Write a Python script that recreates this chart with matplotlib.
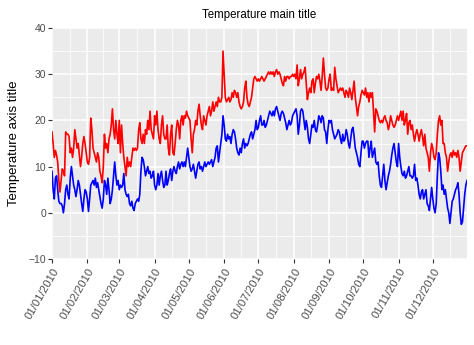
import numpy as np
import pandas as pd
import matplotlib
matplotlib.use("Agg")
import matplotlib.pyplot as plt
import matplotlib.dates as mdates

# daily max / min temperatures for 2010, one row per month
tmax = [
    17.5, 15, 12, 13.5, 12.5, 11, 7, 4.5, 7, 9.5, 9, 8, 17.5, 17, 17, 16.5, 13, 14, 12, 14, 18, 16, 14, 15, 12.5, 10, 12, 15, 16.5, 15, 13,
    11, 10.5, 12, 20.5, 18, 14, 13, 12, 11, 13, 12, 9, 8, 6.5, 10, 17, 14, 15, 13, 16, 17, 19, 22.5, 18, 16, 20, 17, 15,
    20, 13, 19, 15, 12, 10, 8, 12, 10, 11, 10, 12, 14, 13.5, 14, 13.5, 14, 18, 19.5, 16, 15, 17, 15, 18, 17, 20, 18, 22, 18, 17, 16,
    21, 19, 22, 18, 16, 15, 19, 21, 17, 16, 16, 19, 14, 12.5, 17, 19, 13, 12.5, 15, 18, 20, 19, 16, 20, 21, 19, 21, 20.5, 22, 21,
    20.5, 20, 16, 13, 17, 18, 20, 19, 22, 23.5, 21, 19, 18, 21, 20, 19, 21, 22, 23, 21, 22, 24, 22, 23, 24, 23, 25, 24, 24, 25, 35,
    30, 25, 24, 24.5, 25, 24, 24.5, 26, 25, 26.5, 26, 25, 26, 24, 23, 22.5, 23, 24, 27, 28.5, 25, 23.5, 23, 24, 25, 27, 29, 29.5, 29, 28.5,
    29, 28.5, 29, 29.5, 29, 28.5, 29, 29.5, 30, 30.5, 30, 30.5, 30, 30.5, 29.5, 30.5, 31, 30, 30.5, 30, 29, 28, 27.5, 29.5, 28.5, 29.5, 29.5, 29, 29.5, 29.5, 30,
    29.5, 30, 29, 32, 27.5, 29, 31, 29, 30, 30.5, 31.5, 28, 24.5, 26, 27, 26, 28.5, 29, 26, 28, 29.5, 29, 30, 28.5, 26.5, 29.5, 33.5, 30, 27, 26.5, 27,
    29, 30, 26.5, 27, 26.5, 31.5, 29, 27.5, 26, 26.5, 27, 26.5, 27, 26, 25, 26.5, 26, 25, 27, 26, 24.5, 26.5, 28.5, 25, 23, 21, 23, 24, 25.5, 26.5,
    26, 25.5, 27, 25, 26, 24, 26, 25, 26, 22, 17.5, 22.5, 22, 21, 20, 19.5, 20, 19.5, 20.5, 21, 20, 19.5, 18, 19, 21, 20, 19, 18.5, 19, 20, 21,
    20, 21, 22, 20, 22, 19, 20, 21.5, 17, 19.5, 20, 18, 19, 17, 15.5, 17, 18, 17, 15.5, 17, 18, 16.5, 14.5, 17, 14, 13, 12, 9, 13, 15,
    14, 12, 11.5, 13, 17, 20, 21, 19, 20, 15, 15, 13, 12, 9, 11, 12.5, 13, 12, 13.5, 12.5, 13, 12, 13.5, 12, 9, 11, 13, 13.5, 14, 14.5, 14.5,
]
tmin = [
    9, 5, 3, 7.5, 8, 5, 2.5, 2, 2, 1.5, 0, 2, 5, 6, 4, 3, 7.5, 10, 8, 6, 5, 3.5, 5, 7, 6, 4, 2, 0.3, 3, 5, 4.5,
    3, 0.3, 3, 6, 6.5, 7, 6, 7.5, 5.5, 6.5, 5, 3.5, 2, 1, 3, 7, 6, 4, 7.5, 5, 2, 3, 5, 8, 11, 8, 6, 7,
    5, 6, 5.5, 6, 8.5, 5, 4, 3.5, 4, 2, 1.5, 2.5, 1, 0.5, 2, 2.5, 3, 2.5, 4, 9, 12, 11.5, 10, 8, 9, 10, 8.5, 9, 7.5, 8, 9,
    6, 5, 6, 8.5, 6, 8, 9, 7, 5.5, 6, 9, 6, 7, 8.5, 9.5, 7, 9, 10, 9, 8.5, 10, 11, 9.5, 10.5, 11, 10, 11, 10, 12, 14,
    12, 10, 9, 9.5, 10.5, 9, 7.5, 9, 10.5, 11, 9.5, 10, 9, 10, 11, 10, 10.5, 11, 10.5, 11, 11.5, 10, 11, 12, 14, 14.5, 11, 13, 15, 17, 21,
    19, 16, 15.5, 17, 16, 16.5, 15, 17, 18, 17.5, 16, 14, 13, 12.5, 14, 13, 15, 16, 14, 15, 14.5, 15, 16, 17, 17.5, 16, 17, 18, 20, 18,
    18.5, 20, 21, 19, 19, 20, 18.5, 19, 20, 21, 22, 21.5, 21, 22, 21, 22.5, 23, 22, 21, 20, 21.5, 22, 21.5, 20.5, 19.5, 18, 19, 20, 19, 19.5, 21,
    21.5, 22, 22.5, 21, 17, 19, 22, 22.5, 22, 20, 18, 20, 18.5, 16, 15, 17, 19, 18.5, 20, 18, 17.5, 19, 21, 20.5, 19.5, 21, 20.5, 18, 17.5, 15, 18,
    20, 19.5, 20, 18, 17, 16, 16.5, 17, 18, 17.5, 16, 15, 17, 15.5, 16, 18, 17, 15, 14, 16, 18, 18.5, 16.5, 14, 13, 12, 10.5, 10, 13, 15.5,
    15.5, 14, 15, 15.5, 15.5, 12, 14, 15.5, 12, 13, 14, 11, 10.5, 11, 8, 6, 5.5, 8, 10.5, 7, 5, 6.5, 8, 9, 10.5, 12.5, 14, 15, 13, 11, 10,
    15, 12, 10, 8.5, 8, 9, 7.5, 8, 9, 10, 8, 8, 7.5, 8, 10.5, 7, 7.5, 6, 4, 3, 4.5, 5, 3, 4, 5, 2, 1.5, 0.5, 3, 5.5,
    3, 1, 0, 2, 8, 13, 12, 9, 5, 6, 4, 5, 3, 1, 0, -2.3, 0, 2.5, 3, 4, 5, 5.5, 6.5, 4, 0, -2.5, -2, 1, 4, 6, 7,
]
dates = pd.date_range("2010-01-01", "2010-12-31", freq="D")

plt.rcParams['font.family'] = ['Liberation Sans', 'DejaVu Sans']

fig = plt.figure(figsize=(4.74, 3.45), dpi=100)
ax = fig.add_axes([52/474, 86/345, 415/474, 231/345])
ax.set_facecolor('#EBEBEB')

ax.plot(dates, tmax, color='red', lw=1.2)
ax.plot(dates, tmin, color='blue', lw=1.2)

ax.set_xlim(dates[0], dates[-1])
ax.set_ylim(-10, 40)

months = pd.date_range("2010-01-01", "2011-01-01", freq="MS")
ax.set_xticks(months[:-1])
ax.xaxis.set_major_formatter(mdates.DateFormatter('%d/%m/%Y'))
mnum = mdates.date2num(months)
ax.set_xticks((mnum[:-1] + mnum[1:]) / 2, minor=True)
ax.set_yticks([-10, 0, 10, 20, 30, 40])
ax.set_yticks([-5, 5, 15, 25, 35], minor=True)

ax.grid(which='major', color='white', lw=1.1)
ax.grid(which='minor', color='white', lw=0.55)
ax.set_axisbelow(True)
for s in ax.spines.values():
    s.set_visible(False)

ax.tick_params(which='major', length=2.8, width=0.8, color='#333333',
               labelcolor='#4D4D4D', labelsize=7.5, pad=1.5)
ax.tick_params(axis='x', which='major', labelsize=8.2, pad=2.5)
ax.tick_params(which='minor', length=0)
plt.setp(ax.get_xticklabels(), rotation=60, ha='right', rotation_mode='anchor')

ax.set_title('Temperature main title', fontsize=8.3, pad=7)
ax.set_ylabel('Temperature axis title', fontsize=9.5, labelpad=6)

fig.savefig('out.png', dpi=100)
